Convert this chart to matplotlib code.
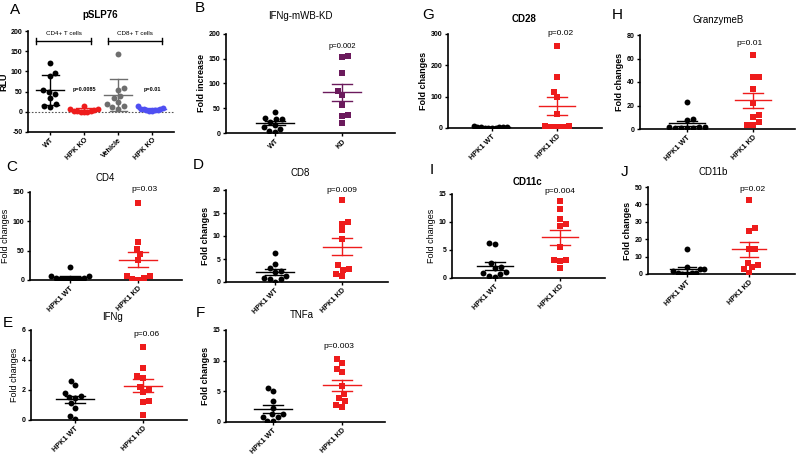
import numpy as np
import matplotlib.pyplot as plt

plt.rcParams['font.family'] = ['Liberation Sans', 'DejaVu Sans']

W, H = 800, 454

# ---- data ----
# A: pSLP76 (RLU), mean +/- SD
a_labels = ["WT", "HPK KO", "Vehicle", "HPK KO"]
a_wt = [122, 97, 88, 55, 50, 45, 35, 20, 15, 12]
a_cd4_ko = [15, 8, 6, 5, 3, 2, 1, 0, -1, 0]
a_vehicle = [142, 58, 55, 40, 35, 25, 20, 15, 12, 8]
a_cd8_ko = [15, 10, 8, 7, 6, 5, 5, 4, 3, 2]

# B: IFNg-mWB-KD (fold increase)
b_labels = ["WT", "KD"]
b_wt = [43, 31, 28, 29, 23, 16, 12, 9, 5, 2]
b_kd = [155, 154, 122, 85, 76, 56, 36, 34, 20]

hpk_labels = ["HPK1 WT", "HPK1 KD"]
cd4_wt = [22, 7, 6, 4, 3, 2, 1, 1, 1, 0]
cd4_kd = [131, 64, 53, 44, 34, 7, 3, 7, 2, 0]
cd8_wt = [6.4, 4.0, 3.0, 2.5, 2.2, 1.3, 0.8, 0.6, 0.6, 0.0]
cd8_kd = [17.8, 13.1, 12.6, 11.3, 9.3, 3.6, 2.9, 2.7, 1.8, 1.4]
ifng_wt = [2.62, 2.31, 1.82, 1.6, 1.55, 1.45, 1.11, 0.82, 0.3, 0.1]
ifng_kd = [4.89, 3.49, 2.93, 2.82, 2.2, 2.04, 1.84, 1.27, 1.18, 0.31]
tnfa_wt = [5.6, 5.1, 3.5, 2.3, 1.3, 1.3, 0.8, 0.8, 0.1, 0.1]
tnfa_kd = [10.2, 9.6, 8.6, 8.2, 5.8, 4.6, 3.9, 3.4, 2.8, 2.5]
cd28_wt = [5, 4, 3, 3, 2, 2, 1, 1, 0.5, 0.5]
cd28_kd = [262, 164, 115, 98, 45, 7, 2, 2, 4, 6]
gzmb_wt = [23.4, 8.5, 7.3, 2, 1.5, 1, 1, 0.8, 0.8, 1.5]
gzmb_kd = [62.9, 44.6, 44.6, 34, 22, 11.9, 10.5, 5.6, 3.4, 3.4]
cd11c_wt = [6.3, 6.0, 2.6, 1.9, 1.7, 1.0, 0.9, 0.7, 0.4, 0.2]
cd11c_kd = [13.8, 12.4, 10.5, 9.7, 9.2, 5.5, 3.2, 3.1, 3.3, 1.8]
cd11b_wt = [14.4, 4.0, 3.1, 2.9, 1.5, 0.8, 0.3, 0.2, 0.2, 0.3]
cd11b_kd = [42.7, 26.3, 25, 14.4, 14.6, 5.2, 6.2, 3.8, 2.7, 0.8]

RED = '#ee1c1c'
PURPLE = '#6b1a5c'
BLUE = '#4f4ff2'
GREY = '#6e6e6e'

fig = plt.figure(figsize=(W / 100, H / 100), dpi=100)


def swarm(values, ylim, h_px, unit_px, dot=6.0, max_half=0.3):
    # simple beeswarm: push overlapping points sideways, nearest free spot,
    # then squeeze the whole group if it gets wider than the mean line
    v = np.asarray(values, float)
    ypx = (v - ylim[0]) / (ylim[1] - ylim[0]) * h_px
    offs = np.zeros(len(v))
    placed = []
    cands = sorted(np.arange(-40, 40.5, 0.5), key=lambda c: (abs(c), -c))
    for n, i in enumerate(np.argsort(v)):
        for x in cands:
            if n % 2 and x != 0:
                x = -x
            if all((x - px) ** 2 + (ypx[i] - py) ** 2 >= dot ** 2 for px, py in placed):
                break
        placed.append((x, ypx[i]))
        offs[i] = x
    offs = offs / unit_px
    widest = np.abs(offs).max()
    if widest > max_half:
        offs = offs * max_half / widest
    return offs


def panel(rect, ticks_px, ylim, yticks, groups, colors, markers, xlabels,
          ylabel, sd=False, mean_w=0.28, cap_w=0.15, bold_ylabel=True):
    x0, y0, x1, y1 = rect
    ax = fig.add_axes([x0 / W, 1 - y1 / H, (x1 - x0) / W, (y1 - y0) / H])
    step = ticks_px[1] - ticks_px[0]
    ax.set_xlim((x0 - ticks_px[0]) / step, (x1 - ticks_px[0]) / step)
    ax.set_ylim(*ylim)
    for i, (vals, c, m) in enumerate(zip(groups, colors, markers)):
        vals = np.asarray(vals, float)
        xs = i + swarm(vals, ylim, y1 - y0, step, max_half=mean_w)
        ax.scatter(xs, vals, s=18, color=c, marker=m, zorder=3, linewidths=0)
        mu = vals.mean()
        err = vals.std(ddof=1)
        if not sd:
            err = err / np.sqrt(len(vals))
        ax.plot([i - mean_w, i + mean_w], [mu, mu], color=c, lw=1.0, zorder=4)
        ax.plot([i, i], [mu - err, mu + err], color=c, lw=1.0, zorder=4)
        for e in (mu - err, mu + err):
            ax.plot([i - cap_w, i + cap_w], [e, e], color=c, lw=1.0, zorder=4)
    ax.set_xticks(range(len(groups)))
    ax.set_xticklabels(xlabels, rotation=45, ha='right', rotation_mode='anchor',
                       fontsize=5.2, fontweight='bold')
    ax.set_yticks(yticks)
    ax.set_yticklabels([str(t) for t in yticks], fontsize=5, fontweight='bold')
    ax.set_ylabel(ylabel, fontsize=6.5, fontweight='bold' if bold_ylabel else 'normal',
                  labelpad=2)
    for s in ('top', 'right'):
        ax.spines[s].set_visible(False)
    for s in ('left', 'bottom'):
        ax.spines[s].set_linewidth(1.2)
    ax.tick_params(axis='both', length=2.5, width=1, pad=1.5)
    ax.tick_params(axis='x', pad=1)
    return ax


def label(x, y, txt, size, bold=False):
    fig.text(x / W, 1 - y / H, txt, fontsize=size, ha='center', va='center',
             fontweight='bold' if bold else 'normal')


# A
ax = panel((28, 31, 174, 132), (50, 84), (-50, 200), [-50, 0, 50, 100, 150, 200],
           [a_wt, a_cd4_ko, a_vehicle, a_cd8_ko], ['black', RED, GREY, BLUE],
           ['o'] * 4, a_labels, 'RLU', sd=True, mean_w=0.4, cap_w=0.25)
ax.axhline(0, color='#555555', lw=0.8, ls=(0, (1.5, 1.5)), zorder=1)
for xa, xb, t in [(-0.4, 1.2, 'CD4+ T cells'), (1.7, 3.3, 'CD8+ T cells')]:
    ax.plot([xa, xb], [175, 175], color='black', lw=1.0)
    ax.plot([xa, xa], [167, 183], color='black', lw=1.0)
    ax.plot([xb, xb], [167, 183], color='black', lw=1.0)
    ax.text((xa + xb) / 2, 188, t, fontsize=4.5, ha='center', va='bottom')
ax.text(1, 55, 'p=0.0085', fontsize=4, ha='center', va='center', fontweight='bold')
ax.text(3, 55, 'p=0.01', fontsize=4, ha='center', va='center', fontweight='bold')
label(15, 10, 'A', 11)
label(100, 15, 'pSLP76', 7, bold=True)

# B
ax = panel((226, 34, 395, 133), (275, 342), (0, 200), [0, 50, 100, 150, 200],
           [b_wt, b_kd], ['black', PURPLE], ['o', 's'], b_labels, 'Fold increase')
ax.text(1, 174, 'p=0.002', fontsize=5.5, ha='center', va='center')
label(200, 8, 'B', 11)
label(300, 16, 'IFNg-mWB-KD', 7)

# C
ax = panel((30, 192, 182, 280), (70, 138), (0, 150), [0, 50, 100, 150],
           [cd4_wt, cd4_kd], ['black', RED], ['o', 's'], hpk_labels, 'Fold changes',
           bold_ylabel=False)
ax.text(1.1, 154, 'p=0.03', fontsize=6, ha='center', va='center')
label(12, 167, 'C', 11)
label(105, 178, 'CD4', 7)

# D
ax = panel((226, 190, 388, 282), (275, 342), (0, 20), [0, 5, 10, 15, 20],
           [cd8_wt, cd8_kd], ['black', RED], ['o', 's'], hpk_labels, 'Fold changes')
ax.text(1, 20, 'p=0.009', fontsize=6, ha='center', va='center')
label(198, 165, 'D', 11)
label(300, 173, 'CD8', 7)

# E
ax = panel((31, 330, 187, 420), (75, 143), (0, 6), [0, 2, 4, 6],
           [ifng_wt, ifng_kd], ['black', RED], ['o', 's'], hpk_labels, 'Fold changes',
           bold_ylabel=False)
ax.text(1.05, 5.67, 'p=0.06', fontsize=6, ha='center', va='center')
label(8, 323, 'E', 11)
label(112, 317, 'IFNg', 7)

# F
ax = panel((226, 330, 385, 422), (273, 342), (0, 15), [0, 5, 10, 15],
           [tnfa_wt, tnfa_kd], ['black', RED], ['o', 's'], hpk_labels, 'Fold changes')
ax.text(0.95, 12.3, 'p=0.003', fontsize=6, ha='center', va='center')
label(200, 313, 'F', 11)
label(302, 315, 'TNFa', 7)

# G
ax = panel((448, 34, 602, 128), (492, 557), (0, 300), [0, 100, 200, 300],
           [cd28_wt, cd28_kd], ['black', RED], ['o', 's'], hpk_labels, 'Fold changes')
ax.text(1.05, 300, 'p=0.02', fontsize=6, ha='center', va='center')
label(428, 15, 'G', 11)
label(524, 19, 'CD28', 7, bold=True)

# H
ax = panel((640, 35, 795, 129), (687, 753), (0, 80), [0, 20, 40, 60, 80],
           [gzmb_wt, gzmb_kd], ['black', RED], ['o', 's'], hpk_labels, 'Fold changes')
ax.text(0.95, 73, 'p=0.01', fontsize=6, ha='center', va='center')
label(617, 15, 'H', 11)
label(718, 20, 'GranzymeB', 7)

# I
ax = panel((452, 194, 605, 278), (495, 560), (0, 15), [0, 5, 10, 15],
           [cd11c_wt, cd11c_kd], ['black', RED], ['o', 's'], hpk_labels, 'Fold changes',
           bold_ylabel=False)
ax.text(1, 15.4, 'p=0.004', fontsize=6, ha='center', va='center')
label(432, 170, 'I', 11)
label(527, 182, 'CD11c', 7, bold=True)

# J
ax = panel((648, 187, 795, 274), (687, 749), (0, 50), [0, 10, 20, 30, 40, 50],
           [cd11b_wt, cd11b_kd], ['black', RED], ['o', 's'], hpk_labels, 'Fold changes')
ax.text(1.05, 48.5, 'p=0.02', fontsize=6, ha='center', va='center')
label(625, 172, 'J', 11)
label(713, 172, 'CD11b', 7)

fig.savefig('out.png', dpi=100)
